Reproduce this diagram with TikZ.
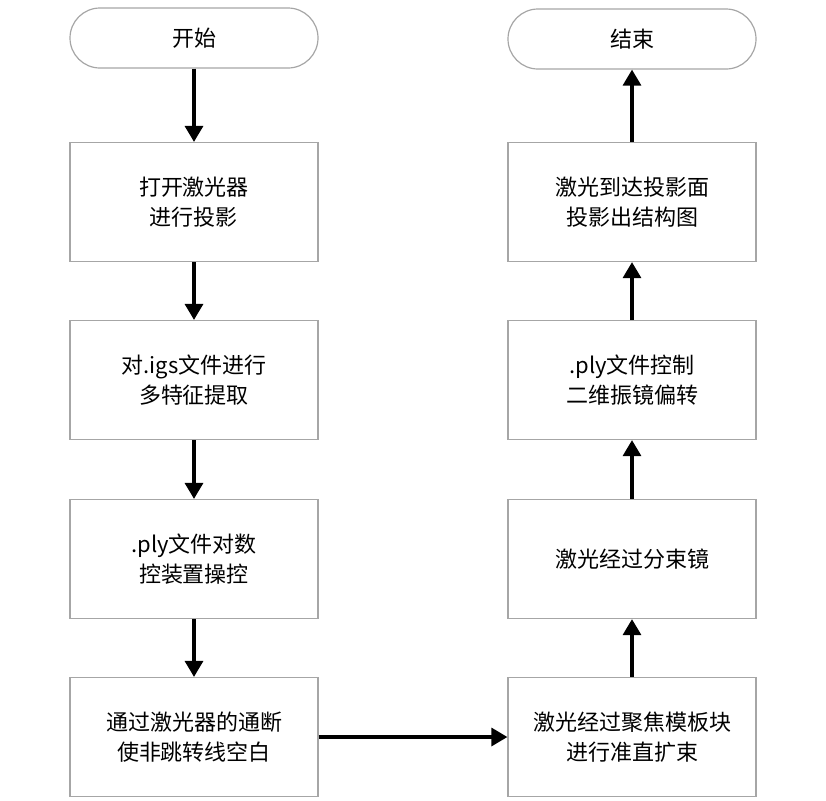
\documentclass[tikz,border=0pt]{standalone}
\usepackage{fontspec}
\newfontfamily\cjk{Noto Sans CJK SC}
\usetikzlibrary{arrows.meta}
\begin{document}
\begin{tikzpicture}[x=0.5pt, y=-0.5pt, inner sep=1pt]
		\tikzstyle{every node}=[align=center, font=\cjk\fontsize{11}{15}\selectfont]
		\tikzstyle{procbox}=[draw=gray!70, line width=0.6pt, minimum width=124pt, minimum height=59.5pt]
		\tikzstyle{termbox}=[draw=gray!70, line width=0.6pt, rounded corners=15pt, minimum width=124pt, minimum height=30pt]
		\tikzstyle{flow}=[-{Triangle[length=8pt, width=9pt]}, line width=1.6pt]
		\useasboundingbox (0, 0) rectangle (826, 800);
			\node[termbox] (start) at (194, 38) {开始};
			\node[procbox] (open) at (194, 202) {打开激光器\\进行投影};
			\node[procbox] (igs) at (194, 380) {对.igs文件进行\\多特征提取};
			\node[procbox] (ply) at (194, 559) {.ply文件对数\\控装置操控};
			\node[procbox] (gap) at (194, 737) {通过激光器的通断\\使非跳转线空白};
			\node[procbox] (focus) at (632, 737) {激光经过聚焦模板块\\进行准直扩束};
			\node[procbox] (split) at (632, 559) {激光经过分束镜};
			\node[procbox] (mirror) at (632, 380) {.ply文件控制\\二维振镜偏转};
			\node[procbox] (proj) at (632, 202) {激光到达投影面\\投影出结构图};
			\node[termbox] (end) at (632, 39) {结束};

			\draw[flow] (start) -- (open);
			\draw[flow] (open) -- (igs);
			\draw[flow] (igs) -- (ply);
			\draw[flow] (ply) -- (gap);
			\draw[flow] (gap) -- (focus);
			\draw[flow] (focus) -- (split);
			\draw[flow] (split) -- (mirror);
			\draw[flow] (mirror) -- (proj);
			\draw[flow] (proj) -- (end);
		\end{tikzpicture}
\end{document}
